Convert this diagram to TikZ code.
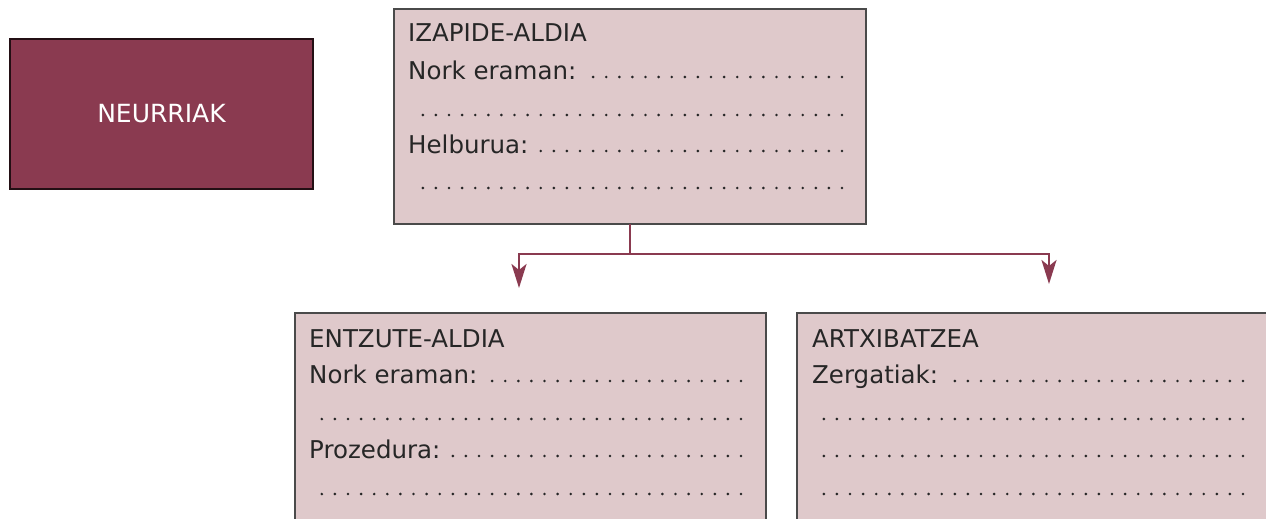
\documentclass[tikz,border=0pt]{standalone}
\usepackage{fontspec}
\setmainfont{DejaVu Sans}
\usetikzlibrary{arrows.meta}
\definecolor{wine}{HTML}{8A3A50}
\definecolor{pinkbg}{HTML}{DFC9CB}
\definecolor{boxline}{HTML}{4A4A4A}
\definecolor{ink}{HTML}{262626}
\tikzset{
 pinkbox/.style={draw=boxline, line width=1.6pt, fill=pinkbg, anchor=north west, inner sep=0pt, outer sep=0pt},
 lbl/.style={anchor=base west, inner sep=0pt, text=ink, font=\fontsize{24.5}{28}\selectfont},
 conn/.style={draw=wine, line width=2.6pt},
 tipped/.style={-{Stealth[length=24pt,width=15pt,inset=6pt]}},
}
\newcommand{\dotrow}[3]{%
 \pgfmathtruncatemacro{\ndots}{round((#2-#1)/13.1)}%
 \foreach \i in {0,...,\ndots}{\fill[ink] ({#2-\i*13.1},#3) circle (1.45pt);}%
}
\begin{document}
\begin{tikzpicture}[x=1pt,y=-1pt]
\useasboundingbox (0,0) rectangle (1266,519);
\clip (0,0) rectangle (1266,519);
\fill[white] (0,0) rectangle (1266,519);
% NEURRIAK
\node[draw=black!75!wine, line width=1.6pt, fill=wine, minimum width=303pt, minimum height=150pt, inner sep=0pt, outer sep=0pt, text=white, font=\fontsize{25}{28}\selectfont] (neu) at (161.5,114) {NEURRIAK};
% IZAPIDE-ALDIA
\node[pinkbox, minimum width=472pt, minimum height=215pt] (iz) at (394,9) {};
\node[lbl] (izt) at (408,42) {IZAPIDE-ALDIA};
\node[lbl] (iz1) at (408,79) {Nork eraman:};
\node[lbl] (iz3) at (408,153) {Helburua:};
\dotrow{589}{842}{77}
\dotrow{422}{842}{115}
\dotrow{537}{842}{151}
\dotrow{422}{842}{188}
% ENTZUTE-ALDIA
\node[pinkbox, minimum width=471pt, minimum height=240pt] (en) at (295,313) {};
\node[lbl] (ent) at (309,347) {ENTZUTE-ALDIA};
\node[lbl] (en1) at (309,383) {Nork eraman:};
\node[lbl] (en3) at (309,458) {Prozedura:};
\dotrow{492}{741}{381}
\dotrow{323}{741}{419}
\dotrow{453}{741}{456}
\dotrow{323}{741}{494}
% ARTXIBATZEA
\node[pinkbox, minimum width=520pt, minimum height=240pt] (ar) at (797,313) {};
\node[lbl] (art) at (812,347) {ARTXIBATZEA};
\node[lbl] (ar1) at (812,383) {Zergatiak:};
\dotrow{955}{1243}{381}
\dotrow{824}{1243}{419}
\dotrow{824}{1243}{456}
\dotrow{824}{1243}{494}
% connectors
\coordinate (j) at (iz.south |- 0,254);
\coordinate (tipL) at (519,288);
\coordinate (tipR) at (1049,284);
\draw[conn] (iz.south) -- (j);
\draw[conn,tipped] (j) -| (tipL);
\draw[conn,tipped] (j) -| (tipR);
\end{tikzpicture}
\end{document}
